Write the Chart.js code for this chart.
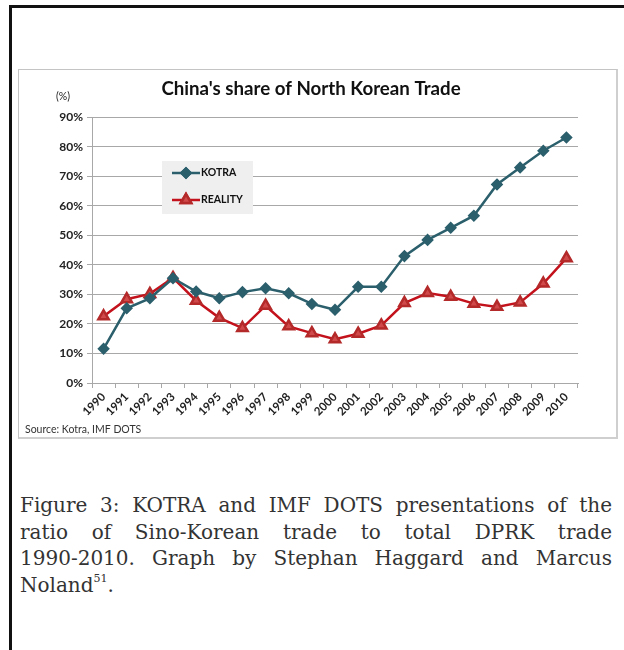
<!DOCTYPE html>
<html>
<head>
<meta charset="utf-8">
<script src="https://cdn.jsdelivr.net/npm/chart.js@4.4.1/dist/chart.umd.min.js"></script>
<style>
  html, body { margin: 0; padding: 0; background: #fff; width: 624px; height: 650px; overflow: hidden; }
  .frame-top { position: absolute; left: 9px; top: 5px; width: 615px; height: 3px; background: #111; }
  .frame-left { position: absolute; left: 9px; top: 5px; width: 3px; height: 645px; background: #111; }
  .box { position: absolute; left: 18px; top: 69px; width: 597px; height: 367px; border: 1px solid #c4c4c4; border-right: 2px solid #cfcfcf; border-bottom: 2px solid #cfcfcf; background: #fff; }
  .chartwrap { position: absolute; left: 19px; top: 70px; width: 596px; height: 366px; }
  .caption { position: absolute; left: 20px; top: 492px; width: 592px; font-family: "DejaVu Serif", serif; font-size: 20px; line-height: 26.7px; color: #333; }
  .caption .j { text-align: justify; text-align-last: justify; white-space: nowrap; }
  .caption sup { font-size: 11px; vertical-align: 10px; line-height: 0; }
</style>
</head>
<body>
<div class="frame-top"></div>
<div class="frame-left"></div>
<div class="box"></div>
<div class="chartwrap"><canvas id="c"></canvas></div>
<div class="caption" id="cap">
  <div class="j"><span>Figure 3: KOTRA and IMF DOTS presentations of the</span></div>
  <div class="j"><span>ratio of Sino-Korean trade to total DPRK trade</span></div>
  <div class="j"><span>1990-2010. Graph by Stephan Haggard and Marcus</span></div>
  <div>Noland<sup>51</sup>.</div>
</div>
<script>
const years = ["1990","1991","1992","1993","1994","1995","1996","1997","1998","1999","2000","2001","2002","2003","2004","2005","2006","2007","2008","2009","2010"];
const kotra = [11.6, 25.3, 28.7, 35.5, 31.0, 28.7, 30.8, 32.1, 30.4, 26.8, 24.8, 32.6, 32.6, 43.0, 48.5, 52.6, 56.7, 67.3, 73.0, 78.7, 83.2];
const reality = [22.6, 28.4, 30.2, 35.6, 27.9, 22.1, 18.6, 26.2, 19.2, 16.9, 14.8, 16.7, 19.5, 27.1, 30.5, 29.2, 26.9, 25.8, 27.3, 33.7, 42.3];
const yTicks = [0, 10, 20, 30, 40, 50, 60, 70, 80, 90];
const seriesNames = ["KOTRA", "REALITY"];
const chartTitle = "China's share of North Korean Trade";
const unitLabel = "(%)";
const sourceText = "Source: Kotra, IMF DOTS";

// caption: inter-character justification like the original
document.querySelectorAll('#cap .j').forEach(line => {
  const span = line.querySelector('span');
  const natural = span.getBoundingClientRect().width;
  const slack = 592 - natural;
  const n = span.textContent.length;
  if (slack > 0) {
    span.style.letterSpacing = (slack * 0.85 / n).toFixed(3) + 'px';
  }
  line.style.whiteSpace = 'normal';
});

const TEAL = '#2b5f6c';
const RED_LINE = '#c3121c';
const RED_FILL = '#d0494b';
const GRID = '#a8a8a8';
const FONT = 'Lato, "Open Sans", sans-serif';

const extras = {
  id: 'extras',
  afterDraw(chart) {
    const ctx = chart.ctx;
    ctx.save();
    ctx.fillStyle = '#222';
    ctx.font = '10.5px ' + FONT;
    ctx.textAlign = 'left';
    ctx.textBaseline = 'middle';
    ctx.fillText(unitLabel, 37, 27);
    ctx.font = '10.5px ' + FONT;
    ctx.fillStyle = '#333';
    ctx.fillText(sourceText, 6, 360);
    ctx.fillStyle = '#efefef';
    ctx.fillRect(143, 91, 91, 53);
    const rows = [103, 130];
    chart.data.datasets.forEach((ds, i) => {
      const y = rows[i];
      ctx.strokeStyle = ds.borderColor;
      ctx.lineWidth = 2.5;
      ctx.beginPath();
      ctx.moveTo(153, y);
      ctx.lineTo(181, y);
      ctx.stroke();
      Chart.helpers.drawPoint(ctx, {
        pointStyle: ds.pointStyle,
        radius: ds.pointRadius,
        borderWidth: 1,
        rotation: 0
      }, 167, y);
      ctx.fillStyle = ds.pointBackgroundColor;
      ctx.strokeStyle = ds.pointBorderColor;
      ctx.fill();
      ctx.stroke();
      ctx.fillStyle = '#111';
      ctx.font = 'bold 10.5px ' + FONT;
      ctx.textAlign = 'left';
      ctx.textBaseline = 'middle';
      ctx.fillText(ds.label, 182, y);
    });
    ctx.restore();
  }
};

new Chart(document.getElementById('c'), {
  type: 'line',
  data: {
    labels: years,
    datasets: [
      {
        label: seriesNames[0],
        data: kotra,
        borderColor: TEAL,
        backgroundColor: TEAL,
        borderWidth: 2.5,
        pointStyle: 'rectRot',
        pointRadius: 4.5,
        pointBackgroundColor: TEAL,
        pointBorderColor: TEAL,
        tension: 0
      },
      {
        label: seriesNames[1],
        data: reality,
        borderColor: RED_LINE,
        backgroundColor: RED_FILL,
        borderWidth: 2.5,
        pointStyle: 'triangle',
        pointRadius: 6,
        pointBackgroundColor: RED_FILL,
        pointBorderColor: '#b42a2a',
        tension: 0
      }
    ]
  },
  options: {
    responsive: true,
    maintainAspectRatio: false,
    animation: false,
    layout: { padding: { left: 25, right: 37, top: 0, bottom: 12 } },
    plugins: {
      legend: { display: false },
      tooltip: { enabled: false },
      title: {
        display: true,
        text: chartTitle,
        color: '#111',
        font: { family: FONT, size: 18.7, weight: 'bold' },
        padding: { top: 8, bottom: 17 }
      }
    },
    scales: {
      x: {
        type: 'category',
        offset: true,
        grid: { offset: true, drawOnChartArea: false, drawTicks: true, tickLength: 5, color: GRID },
        border: { color: GRID, width: 1 },
        ticks: {
          minRotation: 45, maxRotation: 45, autoSkip: false, padding: 2,
          color: '#222', font: { family: FONT, size: 11.5, weight: 'bold' }
        },
        afterFit(scale) { scale.height = 41; }
      },
      y: {
        min: 0, max: 90,
        afterBuildTicks(scale) { scale.ticks = yTicks.map(v => ({ value: v })); },
        grid: { color: GRID, tickLength: 5, lineWidth: 1 },
        border: { color: GRID, width: 1 },
        ticks: {
          padding: 4, color: '#222',
          font: { family: FONT, size: 12, weight: 'bold' },
          callback: (v) => v + '%'
        },
        afterFit(scale) { scale.width = 48; }
      }
    }
  },
  plugins: [extras]
});
</script>
</body>
</html>
